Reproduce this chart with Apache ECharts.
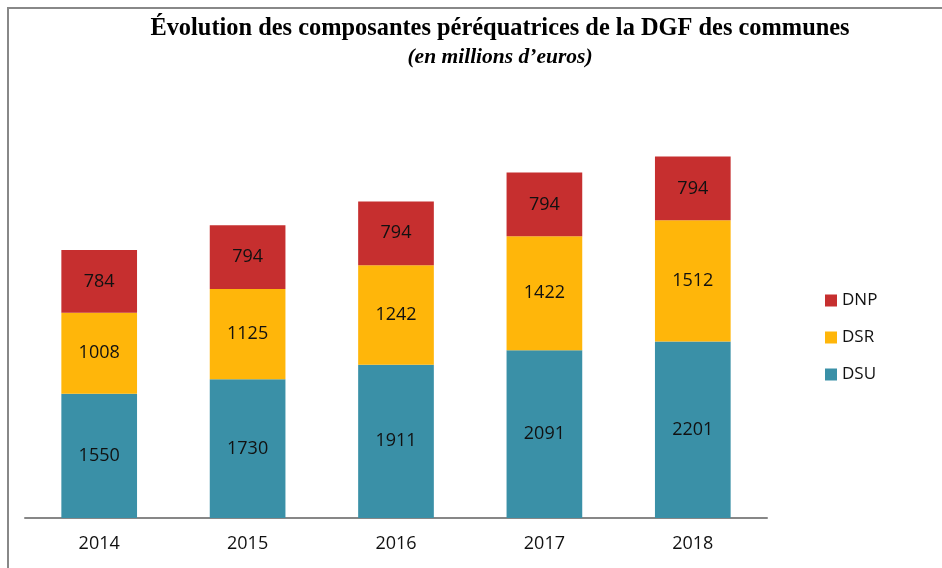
<!DOCTYPE html>
<html><head><meta charset="utf-8">
<script src="https://cdn.jsdelivr.net/npm/echarts@6/dist/echarts.min.js"></script>
<style>html,body{margin:0;padding:0;background:#fff}#c{width:942px;height:568px}</style>
</head><body><div id="c"></div>
<script>
const categories = ['2014','2015','2016','2017','2018'];
const dsu = [1550,1730,1911,2091,2201];
const dsr = [1008,1125,1242,1422,1512];
const dnp = [784,794,794,794,794];
const legendOrder = ['DNP','DSR','DSU'];

const chart = echarts.init(document.getElementById('c'));
const lbl = {show:true, position:'inside', color:'#111', fontSize:18, fontFamily:'Open Sans'};
function s(name, data, color){
  return {name, type:'bar', stack:'t', data, barWidth:'51%', itemStyle:{color}, label:lbl, emphasis:{disabled:true}};
}
chart.setOption({
  animation:false,
  title:[
    {text:'Évolution des composantes péréquatrices de la DGF des communes', left:495, top:12, textAlign:'center',
     textStyle:{fontFamily:'Liberation Serif', fontWeight:'bold', fontSize:24.4, color:'#000'}},
    {text:'(en millions d’euros)', left:495, top:41, textAlign:'center',
     textStyle:{fontFamily:'Liberation Serif', fontWeight:'bold', fontStyle:'italic', fontSize:21.5, color:'#000'}}
  ],
  graphic:[{type:'polyline', shape:{points:[[8,568],[8,8],[942,8]]}, style:{stroke:'#888', lineWidth:2, fill:null}}],
  legend:{data:legendOrder, orient:'vertical', left:820, top:287, itemWidth:12, itemHeight:12, itemGap:20,
    icon:'rect', textStyle:{fontFamily:'Open Sans', fontSize:17, color:'#111'}},
  grid:{left:25, top:117, width:742, height:401},
  xAxis:{type:'category', data:categories, axisLine:{lineStyle:{color:'#878787', width:2}}, axisTick:{show:false},
    axisLabel:{fontFamily:'Open Sans', fontSize:18, color:'#111', margin:17}},
  yAxis:{type:'value', min:0, max:5000, show:false, splitLine:{show:false}},
  series:[s('DSU', dsu, '#3a90a7'), s('DSR', dsr, '#ffb60a'), s('DNP', dnp, '#c62f2f')]
});
</script></body></html>
